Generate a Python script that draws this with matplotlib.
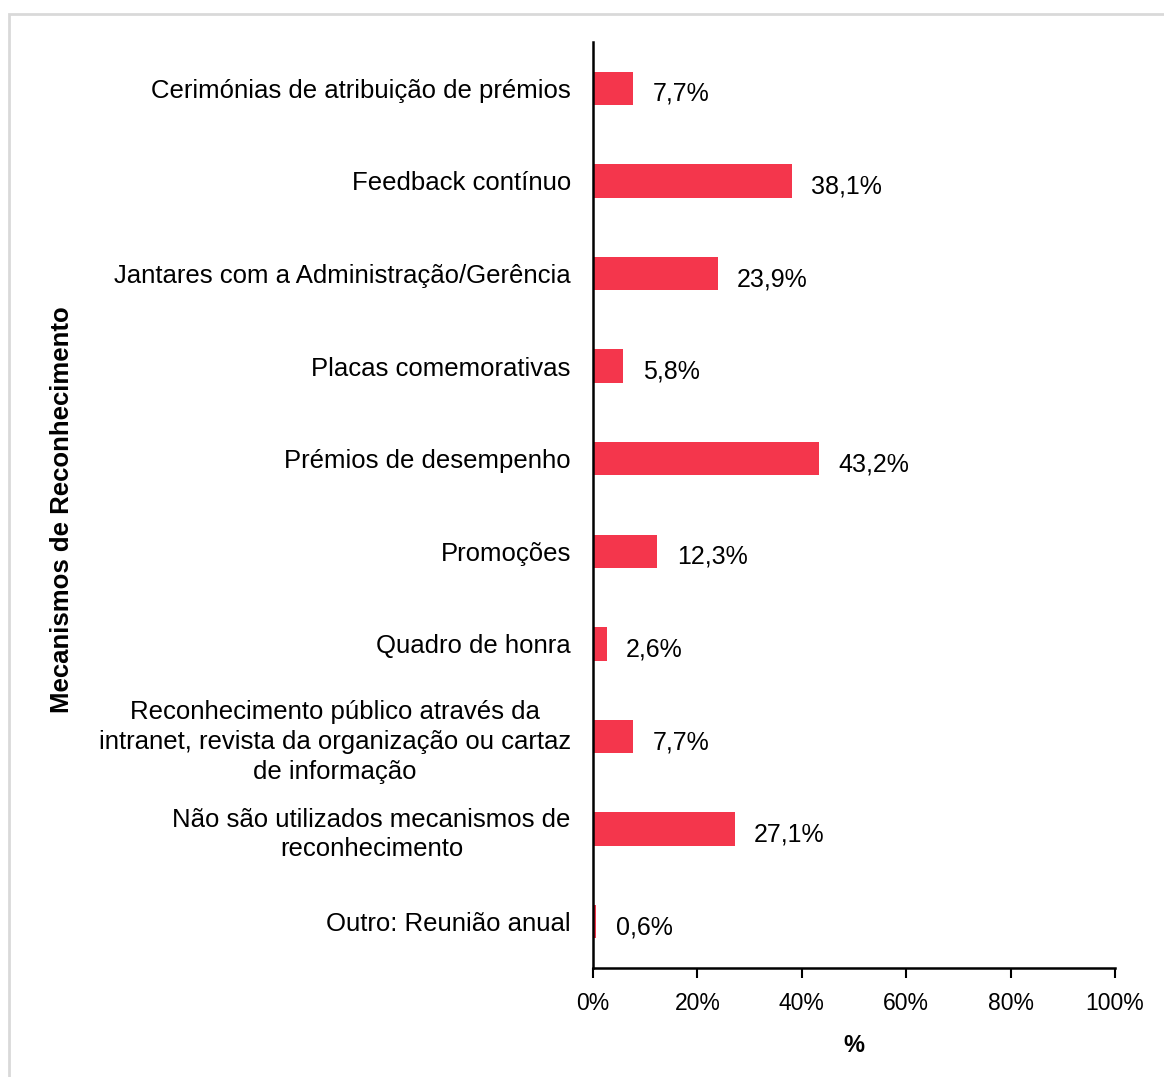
import matplotlib
matplotlib.use("Agg")
from matplotlib import pyplot as plt
from matplotlib.patches import Rectangle

categories = [
    "Cerimónias de atribuição de prémios",
    "Feedback contínuo",
    "Jantares com a Administração/Gerência",
    "Placas comemorativas",
    "Prémios de desempenho",
    "Promoções",
    "Quadro de honra",
    "Reconhecimento público através da\nintranet, revista da organização ou cartaz\nde informação",
    "Não são utilizados mecanismos de\nreconhecimento",
    "Outro: Reunião anual",
]
values = [7.7, 38.1, 23.9, 5.8, 43.2, 12.3, 2.6, 7.7, 27.1, 0.6]
xticks = [0, 20, 40, 60, 80, 100]

plt.rcParams["font.family"] = ["Liberation Sans", "DejaVu Sans"]

fig = plt.figure(figsize=(11.64, 10.77), dpi=100)
ax = fig.add_axes([0.5095, 0.1012, 0.4484, 0.8598])

pos = list(range(len(categories)))
ax.barh(pos, values, height=0.36, color="#F4364C")
for p, v in zip(pos, values):
    ax.annotate(f"{v:.1f}%".replace(".", ","), (v, p), xytext=(14, -4),
                textcoords="offset points", va="center", ha="left", fontsize=18)

ax.set_ylim(len(categories) - 0.5, -0.5)
ax.set_xlim(0, 100)
ax.set_yticks(pos)
ax.set_yticklabels(categories, fontsize=18.5, multialignment="center", linespacing=1.3)
ax.set_xticks(xticks)
ax.set_xticklabels([f"{t}%" for t in xticks], fontsize=16.5)
ax.tick_params(axis="y", length=0, pad=16)
ax.tick_params(axis="x", length=7, width=1.5, direction="out", pad=10)

for s in ["top", "right"]:
    ax.spines[s].set_visible(False)
for s in ["left", "bottom"]:
    ax.spines[s].set_linewidth(1.8)

ax.set_xlabel("%", fontsize=17, fontweight="bold", labelpad=14)
fig.text(0.053, 0.527, "Mecanismos de Reconhecimento", rotation=90, fontsize=18.5,
         fontweight="bold", ha="center", va="center")

fig.patches.append(Rectangle((8.5 / 1164, -0.05), 1.2, 1.05 - 14 / 1077,
                             transform=fig.transFigure, fill=False,
                             edgecolor="#d9d9d9", linewidth=2))

fig.savefig("out.png", dpi=100)
